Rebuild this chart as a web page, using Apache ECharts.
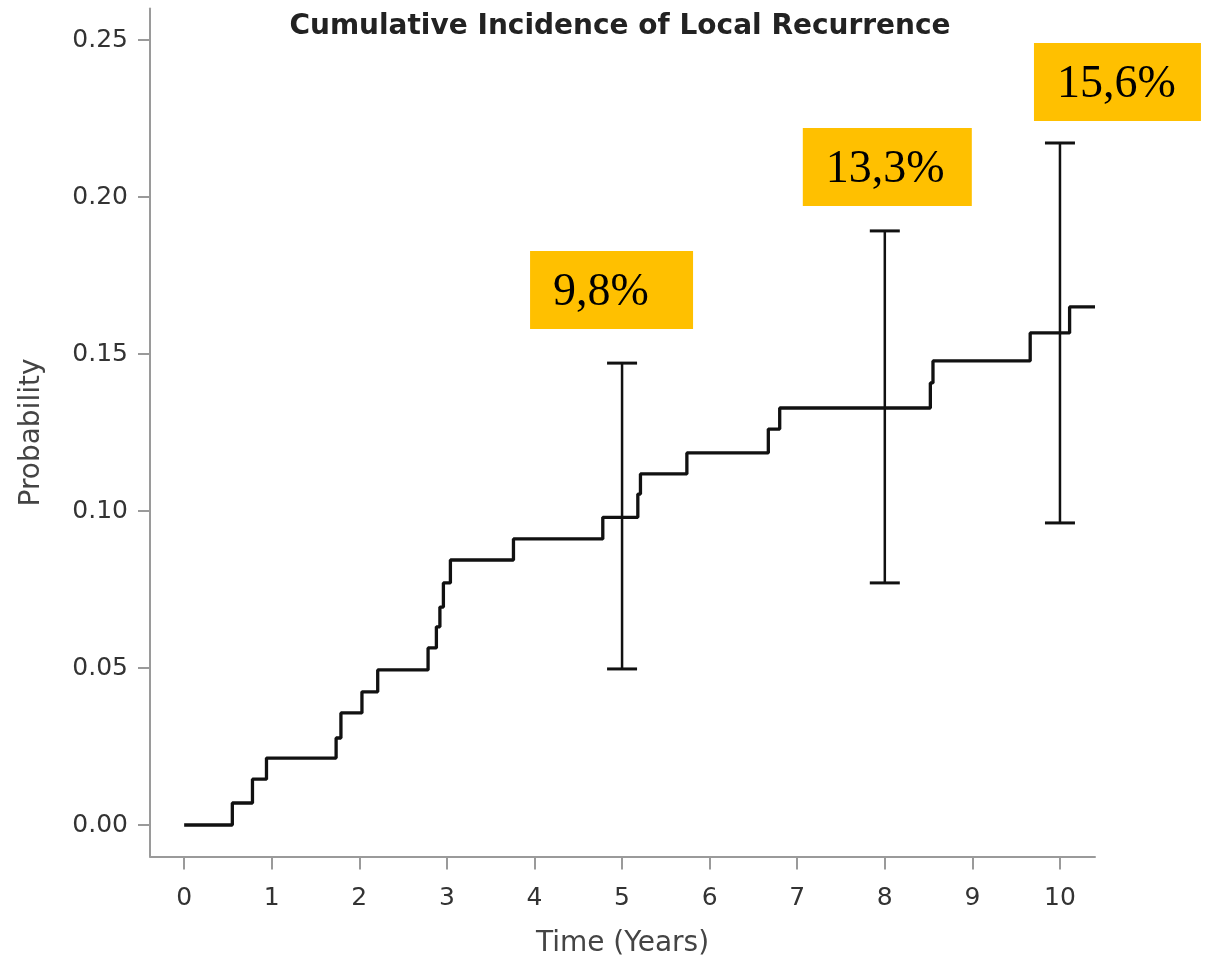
<!DOCTYPE html>
<html><head><meta charset="utf-8">
<script src="https://cdn.jsdelivr.net/npm/echarts@6/dist/echarts.min.js"></script>
<style>html,body{margin:0;padding:0;background:#fff}#c{width:1206px;height:964px}</style>
</head><body><div id="c"></div>
<script>
// ---- data ----
const chartTitle = 'Cumulative Incidence of Local Recurrence';
const xName = 'Time (Years)';
const yName = 'Probability';
const stepTimes  = [0, 0.55, 0.78, 0.94, 1.735, 1.79, 2.03, 2.21, 2.785, 2.88, 2.92, 2.96, 3.04, 3.76, 4.78, 5.18, 5.21, 5.74, 6.67, 6.80, 8.52, 8.55, 9.66, 10.11, 10.40];
const stepValues = [0, 0.0070, 0.0146, 0.0213, 0.0277, 0.0357, 0.0424, 0.0494, 0.0564, 0.0631, 0.0694, 0.0771, 0.0844, 0.0911, 0.0980, 0.1054, 0.1118, 0.1185, 0.1261, 0.1328, 0.1408, 0.1478, 0.1567, 0.1650, 0.1650];
const ciTimes  = [5, 8, 10];
const ciLower  = [0.0497, 0.0771, 0.0962];
const ciUpper  = [0.1471, 0.1892, 0.2172];
const ciLabels = ['9,8%', '13,3%', '15,6%'];
const xTicks = [0, 1, 2, 3, 4, 5, 6, 7, 8, 9, 10];
const yTicks = [0, 0.05, 0.10, 0.15, 0.20, 0.25];

// ---- styles (pixel offsets of the yellow boxes relative to CI top) ----
const boxDx = [-92, -82, -26];
const boxDy = [-112, -103, -100];
const boxW  = [163, 169, 167];
const boxH  = 78;

const axisColor = '#9a9a9a';
const chart = echarts.init(document.getElementById('c'), null, {renderer: 'canvas'});
chart.setOption({
  animation: false,
  backgroundColor: '#fff',
  graphic: [{
    type: 'text', x: 620, y: 27,
    style: {text: chartTitle, font: 'bold 28px "DejaVu Sans"', fill: '#222', align: 'center', verticalAlign: 'middle'}
  }],
  grid: {left: 150, right: 111, top: 8.6, bottom: 107.6, containLabel: false},
  xAxis: {
    type: 'value', min: -0.39, max: 10.4,
    name: xName, nameLocation: 'middle', nameGap: 73,
    nameTextStyle: {fontFamily: 'DejaVu Sans', fontSize: 28, color: '#444'},
    axisLine: {show: true, onZero: false, lineStyle: {color: axisColor, width: 2}},
    axisTick: {show: true, customValues: xTicks, length: 13, lineStyle: {color: axisColor, width: 2}},
    axisLabel: {customValues: xTicks, fontFamily: 'DejaVu Sans', fontSize: 25, color: '#333', margin: 30},
    splitLine: {show: false}
  },
  yAxis: {
    type: 'value', min: -0.01, max: 0.26,
    name: yName, nameLocation: 'middle', nameGap: 104, nameRotate: 90,
    nameTextStyle: {fontFamily: 'DejaVu Sans', fontSize: 28, color: '#444'},
    axisLine: {show: true, onZero: false, lineStyle: {color: axisColor, width: 2}},
    axisTick: {show: true, customValues: yTicks, length: 12, lineStyle: {color: axisColor, width: 2}},
    axisLabel: {customValues: yTicks, fontFamily: 'DejaVu Sans', fontSize: 25, color: '#333', margin: 22,
                formatter: v => v.toFixed(2)},
    splitLine: {show: false}
  },
  series: [{
    type: 'line', step: 'end', symbol: 'none',
    data: stepTimes.map((t, i) => [t, stepValues[i]]),
    lineStyle: {color: '#111', width: 3.3}
  }, {
    type: 'custom', clip: false,
    data: ciTimes.map((t, i) => [t, ciLower[i], ciUpper[i]]),
    encode: {x: 0, y: [1, 2]},
    renderItem: function (params, api) {
      const i = params.dataIndex;
      const top = api.coord([api.value(0), api.value(2)]);
      const bot = api.coord([api.value(0), api.value(1)]);
      const cap = 15;
      const ls = {stroke: '#111', lineWidth: 2.5};
      const bx = top[0] + boxDx[i], by = top[1] + boxDy[i];
      return {type: 'group', children: [
        {type: 'line', shape: {x1: top[0], y1: top[1], x2: bot[0], y2: bot[1]}, style: ls},
        {type: 'line', shape: {x1: top[0] - cap, y1: top[1], x2: top[0] + cap, y2: top[1]}, style: {stroke: '#111', lineWidth: 3}},
        {type: 'line', shape: {x1: bot[0] - cap, y1: bot[1], x2: bot[0] + cap, y2: bot[1]}, style: {stroke: '#111', lineWidth: 3}},
        {type: 'rect', shape: {x: bx, y: by, width: boxW[i], height: boxH}, style: {fill: '#FFC000'}},
        {type: 'text', x: bx + 23, y: by + boxH / 2 + 3,
         style: {text: ciLabels[i], font: '46px "Liberation Serif"', fill: '#000', align: 'left', verticalAlign: 'middle'}}
      ]};
    }
  }]
});
</script></body></html>
